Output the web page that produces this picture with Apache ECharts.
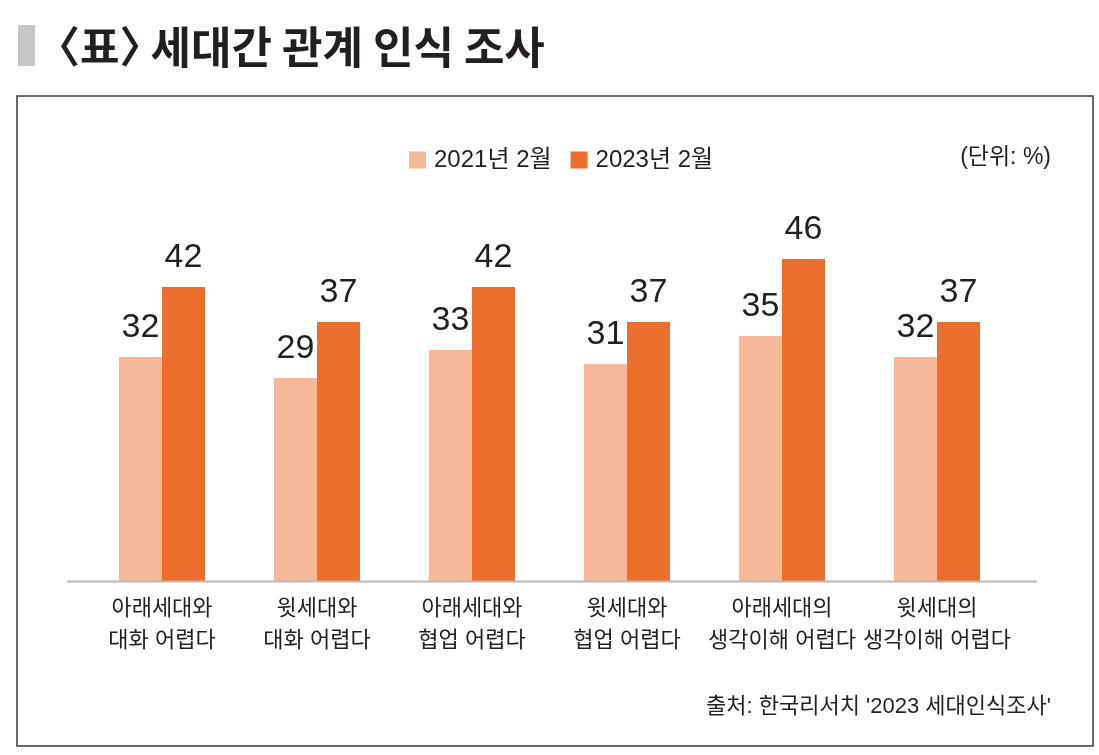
<!DOCTYPE html>
<html>
<head>
<meta charset="utf-8">
<script src="https://cdn.jsdelivr.net/npm/echarts@6/dist/echarts.min.js"></script>
<style>
html,body{margin:0;padding:0;background:#fff;}
#chart{width:1099px;height:755px;}
</style>
</head>
<body>
<div id="chart"></div>
<script>
const categories = ['아래세대와\n대화 어렵다','윗세대와\n대화 어렵다','아래세대와\n협업 어렵다','윗세대와\n협업 어렵다','아래세대의\n생각이해 어렵다','윗세대의\n생각이해 어렵다'];
const series2021 = [32, 29, 33, 31, 35, 32];
const series2023 = [42, 37, 42, 37, 46, 37];
const seriesNames = ['2021년 2월', '2023년 2월'];
const titleTag = '〈표〉';
const titleText = '세대간 관계 인식 조사';
const unitText = '(단위: %)';
const sourceText = "출처: 한국리서치 '2023 세대인식조사'";

const FONT = '"Liberation Sans", "Noto Sans CJK KR", sans-serif';
const TXT = '#231f20';
const LIGHT = '#f5b898';
const DARK = '#ec6e2d';

const chart = echarts.init(document.getElementById('chart'));
const labelCfg = {
  show: true, position: 'top', distance: 12,
  color: TXT, fontSize: 34, fontFamily: FONT
};
chart.setOption({
  backgroundColor: '#fff',
  animation: false,
  title: [
    { text: '{a|' + titleTag + '}{b|' + titleText + '}', left: 32, top: 20,
      textStyle: {
        rich: {
          a: { fontSize: 43, fontWeight: 'bold', color: TXT, fontFamily: '"Noto Sans CJK KR", sans-serif' },
          b: { fontSize: 44, fontWeight: 'bold', color: TXT, fontFamily: '"Noto Sans CJK KR", sans-serif', padding: [0,0,0,-12] }
        }
      } },
    { text: unitText, right: 43, top: 141,
      textStyle: { fontSize: 23, fontWeight: 'normal', color: TXT, fontFamily: FONT } },
    { text: sourceText, right: 43, top: 691,
      textStyle: { fontSize: 22, fontWeight: 'normal', color: TXT, fontFamily: FONT } }
  ],
  legend: {
    left: 409, top: 148, padding: 0,
    itemWidth: 17, itemHeight: 17, itemGap: 19,
    icon: 'rect',
    textStyle: { fontSize: 24, color: TXT, fontFamily: FONT, padding: [0,0,0,3] },
    data: seriesNames
  },
  grid: { left: 84.5, right: 84.5, top: 231, bottom: 174 },
  xAxis: {
    type: 'category', data: categories,
    axisLine: { show: false }, axisTick: { show: false },
    axisLabel: { margin: 12, fontSize: 22, lineHeight: 32, color: TXT, fontFamily: FONT, interval: 0 }
  },
  yAxis: { type: 'value', min: 0, max: 50, show: false, splitLine: { show: false } },
  series: [
    { name: seriesNames[0], type: 'bar', data: series2021, barWidth: 43, barGap: '0%',
      itemStyle: { color: LIGHT }, label: labelCfg },
    { name: seriesNames[1], type: 'bar', data: series2023, barWidth: 43, barGap: '0%',
      itemStyle: { color: DARK }, label: labelCfg }
  ],
  graphic: [
    { type: 'rect', shape: { x: 18, y: 25, width: 17, height: 41 }, style: { fill: '#c6c6c6' } },
    { type: 'rect', shape: { x: 17, y: 96, width: 1076, height: 650 }, style: { fill: 'none', stroke: '#3a3a3a', lineWidth: 1.5 } },
    { type: 'line', shape: { x1: 67, y1: 581.5, x2: 1037, y2: 581.5 }, style: { stroke: '#b9b9b9', lineWidth: 2 }, z: 10 }
  ]
});
</script>
</body>
</html>
